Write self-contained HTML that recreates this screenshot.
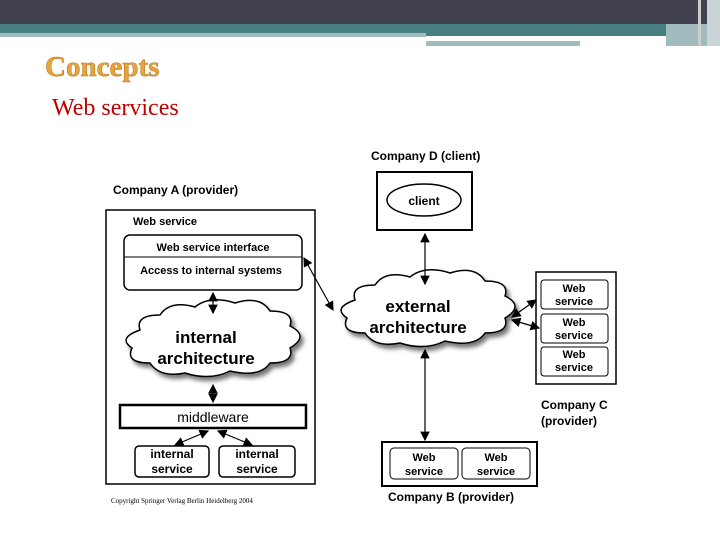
<!DOCTYPE html>
<html><head><style>
body{margin:0;width:720px;height:540px;background:#fff;position:relative;overflow:hidden;font-family:"Liberation Sans",sans-serif}
.a{position:absolute}
</style></head><body>
<div class="a" style="left:0;top:0;width:720px;height:24px;background:#41414f"></div>
<div class="a" style="left:0;top:24px;width:720px;height:9px;background:#467e82"></div>
<div class="a" style="left:0;top:33px;width:426px;height:4px;background:#a2bbbe"></div>
<div class="a" style="left:426px;top:33px;width:240px;height:3px;background:#467e82"></div>
<div class="a" style="left:426px;top:41px;width:154px;height:5px;background:#a2bbbe"></div>
<div class="a" style="left:666px;top:24px;width:54px;height:22px;background:#a2bbbe"></div>
<div class="a" style="left:698px;top:0;width:3px;height:46px;background:#ccc"></div>
<div class="a" style="left:707px;top:0;width:13px;height:46px;background:#c8d4d6"></div>
<div class="a" style="left:45px;top:51px;font-family:'Liberation Serif',serif;font-size:29px;font-weight:bold;color:#e8a33a;-webkit-text-stroke:0.5px #b0701a">Concepts</div>
<div class="a" style="left:52px;top:95px;font-family:'Liberation Serif',serif;font-size:24px;color:#c00000">Web services</div>
<svg class="a" style="left:0;top:0" width="720" height="540" font-family="Liberation Sans" font-weight="bold" font-size="12">
<defs><marker id="m" markerWidth="8" markerHeight="8" refX="7" refY="4" orient="auto-start-reverse"><path d="M0,0L8,4L0,8z"/></marker></defs>
<g fill="#000">
<text x="113" y="194" font-size="12">Company A (provider)</text>
<text x="371" y="160">Company D (client)</text>
<text x="388" y="501">Company B (provider)</text>
<text x="541" y="409">Company C</text><text x="541" y="425">(provider)</text>
<text x="111" y="503" font-size="7" font-family="Liberation Serif" font-weight="normal">Copyright Springer Verlag Berlin Heidelberg 2004</text>
<text x="133" y="225" font-size="11">Web service</text>
</g>
<g fill="none" stroke="#000">
<rect x="106" y="210" width="209" height="274" stroke-width="1.5"/>
<rect x="124" y="235" width="178" height="55" rx="6" stroke-width="1.5"/>
<line x1="124" y1="257" x2="302" y2="257"/>
<rect x="120" y="405" width="186" height="23" stroke-width="2.5"/>
<rect x="135" y="446" width="74" height="31" rx="4" stroke-width="1.5"/>
<rect x="219" y="446" width="76" height="31" rx="4" stroke-width="1.5"/>
<rect x="377" y="172" width="95" height="58" stroke-width="2"/>
<ellipse cx="424" cy="200" rx="37" ry="16" stroke-width="1.5"/>
<rect x="536" y="272" width="80" height="112" stroke-width="1.5"/>
<rect x="541" y="280" width="67" height="29" rx="3"/>
<rect x="541" y="314" width="67" height="29" rx="3"/>
<rect x="541" y="347" width="67" height="29" rx="3"/>
<rect x="382" y="442" width="155" height="44" stroke-width="2"/>
<rect x="390" y="448" width="68" height="31" rx="4"/>
<rect x="462" y="448" width="68" height="31" rx="4"/>
<path d="M140,330 q-5,-15 20,-15 q10,-15 35,-8 q15,-12 40,-4 q25,-8 35,8 q25,0 20,15 q20,10 0,22 q5,15 -20,15 q-10,15 -40,8 q-20,10 -45,2 q-25,5 -35,-10 q-25,0 -18,-15 q-15,-10 8,-18z" fill="#fff" stroke-width="1.5" style="filter:drop-shadow(3px 4px 2px #777)"/>
<path d="M355,300 q-5,-15 20,-15 q10,-15 35,-8 q15,-12 40,-4 q25,-8 35,8 q25,0 20,15 q20,10 0,22 q5,15 -20,15 q-10,15 -40,8 q-20,10 -45,2 q-25,5 -35,-10 q-25,0 -18,-15 q-15,-10 8,-18z" fill="#fff" stroke-width="1.5" style="filter:drop-shadow(3px 4px 2px #777)"/>
<g stroke-width="1.2" marker-start="url(#m)" marker-end="url(#m)">
<line x1="213" y1="293" x2="213" y2="313"/>
<line x1="213" y1="385" x2="213" y2="402"/>
<line x1="208" y1="431" x2="175" y2="445"/>
<line x1="218" y1="431" x2="252" y2="445"/>
<line x1="304" y1="258" x2="333" y2="310"/>
<line x1="425" y1="234" x2="425" y2="284"/>
<line x1="425" y1="350" x2="425" y2="440"/>
<line x1="512" y1="317" x2="536" y2="300"/>
<line x1="512" y1="320" x2="539" y2="328"/>
</g>
</g>
<g fill="#000" text-anchor="middle">
<text x="213" y="251" font-size="11">Web service interface</text>
<text x="211" y="274" font-size="11">Access to internal systems</text>
<text x="206" y="343" font-size="17">internal</text>
<text x="206" y="364" font-size="17">architecture</text>
<text x="418" y="312" font-size="17">external</text>
<text x="418" y="333" font-size="17">architecture</text>
<text x="213" y="422" font-size="14" font-weight="normal">middleware</text>
<text x="172" y="458">internal</text><text x="172" y="473">service</text>
<text x="257" y="458">internal</text><text x="257" y="473">service</text>
<text x="424" y="205">client</text>
<text x="574" y="292" font-size="11">Web</text><text x="574" y="305" font-size="11">service</text>
<text x="574" y="326" font-size="11">Web</text><text x="574" y="339" font-size="11">service</text>
<text x="574" y="358" font-size="11">Web</text><text x="574" y="371" font-size="11">service</text>
<text x="424" y="461" font-size="11">Web</text><text x="424" y="475" font-size="11">service</text>
<text x="496" y="461" font-size="11">Web</text><text x="496" y="475" font-size="11">service</text>
</g>
</svg>
</body></html>
